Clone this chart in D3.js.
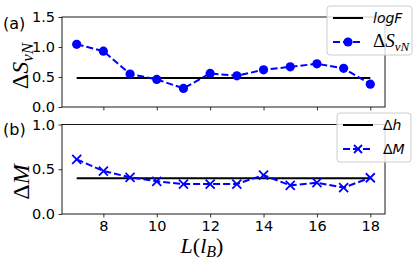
<!DOCTYPE html>
<html>
<head>
<meta charset="utf-8">
<script src="https://cdn.jsdelivr.net/npm/d3@7"></script>
<style>
  body { margin: 0; background: #fff; }
  text { font-family: "DejaVu Sans", sans-serif; }
  .math { font-family: "Liberation Serif", "DejaVu Serif", serif; }
</style>
</head>
<body>
<svg id="fig" width="416" height="261"></svg>
<script>
// system sizes L (in magnetic lengths)
let sizes = [7, 8, 9, 10, 11, 12, 13, 14, 15, 16, 17, 18];
// panel (a): entanglement entropy gap
let dSvN = [1.045, 0.93, 0.55, 0.46, 0.31, 0.56, 0.52, 0.62, 0.67, 0.72, 0.645, 0.38];
let logF = 0.485;
// panel (b): magnetisation gap
let dM = [0.61, 0.48, 0.41, 0.365, 0.335, 0.335, 0.335, 0.435, 0.32, 0.35, 0.295, 0.405];
let dh = 0.40;

let xTicks = [8, 10, 12, 14, 16, 18];
let yTicksA = [0, 0.5, 1.0, 1.5];
let yTicksB = [0, 0.5, 1.0];

let svg = d3.select('#fig');
let blue = '#0000ff';

// shared x scale, matplotlib style 5% margins
let x = d3.scaleLinear().domain([6.45, 18.55]).range([62, 385]);
let yA = d3.scaleLinear().domain([0, 1.5]).range([107, 17]);
let yB = d3.scaleLinear().domain([0, 1]).range([214, 124.5]);

/** draws one panel: frame, ticks, reference line and the dashed series */
let panel = function(y, ticks, series, ref, marker, showX) {
    let g = svg.append('g');

    let ya = d3.axisLeft(y).tickValues(ticks).tickFormat(d3.format('.1f'))
        .tickSize(3.5).tickPadding(3.5);
    g.append('g').attr('transform', `translate(${x.range()[0]},0)`).call(ya);

    let xa = d3.axisBottom(x).tickValues(xTicks).tickSize(3.5).tickPadding(3.5);
    if (!showX) xa.tickFormat('');
    g.append('g').attr('transform', `translate(0,${y.range()[0]})`).call(xa);

    g.selectAll('.domain').remove();
    g.selectAll('.tick line').attr('stroke', '#000').attr('stroke-width', 0.8);
    g.selectAll('.tick text').attr('font-size', 14.5).attr('fill', '#000')
        .attr('font-family', '"DejaVu Sans", sans-serif');

    // reference line
    g.append('line')
        .attr('x1', x(sizes[0])).attr('x2', x(sizes[sizes.length - 1]))
        .attr('y1', y(ref)).attr('y2', y(ref))
        .attr('stroke', '#000').attr('stroke-width', 2);

    let line = d3.line().x((d, i) => x(sizes[i])).y(d => y(d));
    g.append('path').datum(series)
        .attr('d', line).attr('fill', 'none')
        .attr('stroke', blue).attr('stroke-width', 2)
        .attr('stroke-dasharray', '7,3');

    let pts = g.append('g').selectAll('g').data(series).enter().append('g')
        .attr('transform', (d, i) => `translate(${x(sizes[i])},${y(d)})`);
    if (marker === 'o') {
        pts.append('circle').attr('r', 4.6).attr('fill', blue);
    } else {
        pts.append('path').attr('d', 'M-4.5,-4.5L4.5,4.5M-4.5,4.5L4.5,-4.5')
            .attr('stroke', blue).attr('stroke-width', 1.8);
    }

    // frame
    g.append('rect')
        .attr('x', x.range()[0]).attr('y', y.range()[1])
        .attr('width', x.range()[1] - x.range()[0])
        .attr('height', y.range()[0] - y.range()[1])
        .attr('fill', 'none').attr('stroke', '#000').attr('stroke-width', 0.9);
    return g;
};

panel(yA, yTicksA, dSvN, logF, 'o', false);
panel(yB, yTicksB, dM, dh, 'x', true);

// panel tags
svg.append('text').attr('x', 3).attr('y', 29).attr('font-size', 16).text('(a)');
svg.append('text').attr('x', 3).attr('y', 135).attr('font-size', 16).text('(b)');

// y labels (math style)
let ylab = function(cx, cy, build) {
    let t = svg.append('text').attr('class', 'math')
        .attr('transform', `translate(${cx},${cy})rotate(-90)`)
        .attr('text-anchor', 'middle').attr('font-size', 24);
    build(t);
};
ylab(28, 66, t => {
    t.append('tspan').text('Δ');
    t.append('tspan').attr('font-style', 'italic').text('S');
    t.append('tspan').attr('font-style', 'italic').attr('font-size', 17)
        .attr('dy', 5).text('vN');
});
ylab(29, 182, t => {
    t.append('tspan').text('Δ');
    t.append('tspan').attr('font-style', 'italic').text('M');
});

// x label
let xl = svg.append('text').attr('class', 'math')
    .attr('x', 202).attr('y', 253).attr('text-anchor', 'middle').attr('font-size', 22);
xl.append('tspan').attr('font-style', 'italic').text('L');
xl.append('tspan').text('(');
xl.append('tspan').attr('font-style', 'italic').text('l');
xl.append('tspan').attr('font-style', 'italic').attr('font-size', 16).attr('dy', 4).text('B');
xl.append('tspan').attr('dy', -4).text(')');

/** legend box with two rows: solid line and dashed-with-marker */
let legend = function(bx, by, bw, bh, rows, marker) {
    let g = svg.append('g');
    g.append('rect').attr('x', bx).attr('y', by).attr('width', bw).attr('height', bh)
        .attr('rx', 3).attr('fill', '#fff').attr('fill-opacity', 0.8)
        .attr('stroke', '#ccc').attr('stroke-width', 1);
    let lx = bx + 6, ly1 = by + 12, ly2 = by + 36;
    g.append('line').attr('x1', lx).attr('x2', lx + 30).attr('y1', ly1).attr('y2', ly1)
        .attr('stroke', '#000').attr('stroke-width', 2);
    g.append('line').attr('x1', lx).attr('x2', lx + 30).attr('y1', ly2).attr('y2', ly2)
        .attr('stroke', blue).attr('stroke-width', 2).attr('stroke-dasharray', '7,3');
    if (marker === 'o') {
        g.append('circle').attr('cx', lx + 15).attr('cy', ly2).attr('r', 4.6).attr('fill', blue);
    } else {
        g.append('path').attr('transform', `translate(${lx + 15},${ly2})`)
            .attr('d', 'M-4,-4L4,4M-4,4L4,-4').attr('stroke', blue).attr('stroke-width', 1.8);
    }
    rows[0](g.append('text').attr('x', lx + 40).attr('y', ly1 + 5).attr('font-size', 14));
    rows[1](g.append('text').attr('x', lx + 40).attr('y', ly2 + 5).attr('font-size', 14));
};

legend(327, 6, 85, 49, [
    t => t.attr('font-style', 'italic').text('logF'),
    t => {
        t.attr('class', 'math').attr('font-size', 19);
        t.append('tspan').text('Δ');
        t.append('tspan').attr('font-style', 'italic').text('S');
        t.append('tspan').attr('font-style', 'italic').attr('font-size', 13).attr('dy', 4).text('vN');
    }
], 'o');

legend(337, 113, 74, 49, [
    t => { t.append('tspan').text('Δ'); t.append('tspan').attr('font-style', 'italic').text('h'); },
    t => { t.append('tspan').text('Δ'); t.append('tspan').attr('font-style', 'italic').text('M'); }
], 'x');
</script>
</body>
</html>
